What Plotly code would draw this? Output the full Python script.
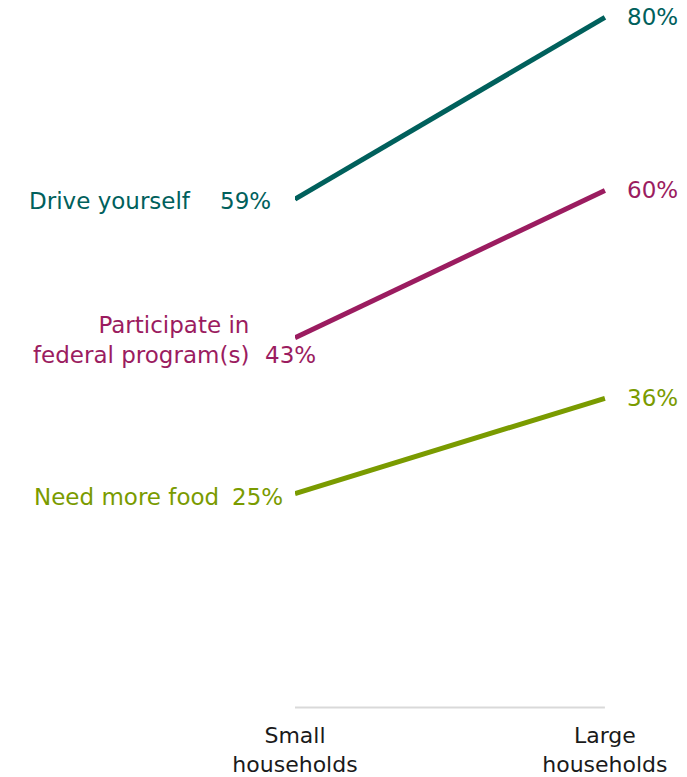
import plotly.graph_objects as go

categories = ["Small<br>households", "Large<br>households"]
series_names = ["Drive yourself", "Participate in<br>federal program(s)", "Need more food"]
small_values = [59, 43, 25]
large_values = [80, 60, 36]
colors = ["#00605C", "#9B1C60", "#7A9B00"]

FONT = "DejaVu Sans"
FS = 23

fig = go.Figure()
xs = [0, 1]
for name, s, l, c in zip(series_names, small_values, large_values, colors):
    fig.add_trace(go.Scatter(x=xs, y=[s, l], mode="lines",
                             line=dict(color=c, width=5),
                             hoverinfo="skip", showlegend=False))

# left-side label tweaks (pixel shifts only)
name_shift = [(-102, -2), (-44, -2), (-74, -3)]
val_shift = [(-22, -2), (23, -17), (-10, -3)]
for i, (name, s, l, c) in enumerate(zip(series_names, small_values, large_values, colors)):
    fig.add_annotation(x=0, y=s, xref="x", yref="y", text=name, showarrow=False,
                       xanchor="right", yanchor="middle", align="right",
                       xshift=name_shift[i][0], yshift=name_shift[i][1],
                       font=dict(family=FONT, size=FS, color=c))
    fig.add_annotation(x=0, y=s, xref="x", yref="y", text=f"{s}%", showarrow=False,
                       xanchor="right", yanchor="middle",
                       xshift=val_shift[i][0], yshift=val_shift[i][1],
                       font=dict(family=FONT, size=FS, color=c))
    fig.add_annotation(x=1, y=l, xref="x", yref="y", text=f"{l}%", showarrow=False,
                       xanchor="left", yanchor="middle", xshift=20, yshift=0,
                       font=dict(family=FONT, size=FS, color=c))

fig.add_shape(type="line", xref="x", yref="y", x0=0, x1=1, y0=0.3, y1=0.3,
              line=dict(color="#D9D9D9", width=2), layer="below")

fig.update_layout(
    width=687, height=777,
    margin=dict(l=295, r=79, t=0, b=67),
    plot_bgcolor="white", paper_bgcolor="white",
    xaxis=dict(range=[0, 1.01], tickvals=xs, ticktext=categories,
               showgrid=False, zeroline=False, showline=False, ticks="",
               tickfont=dict(family=FONT, size=22, color="#1a1a1a"),
               ticklabelstandoff=10, automargin=False),
    yaxis=dict(range=[0, 82], visible=False, showgrid=False, zeroline=False,
               automargin=False),
)

fig.write_html("out.html", config={"displayModeBar": False},
               post_script="document.body.style.margin='0';document.body.style.overflow='hidden';")
